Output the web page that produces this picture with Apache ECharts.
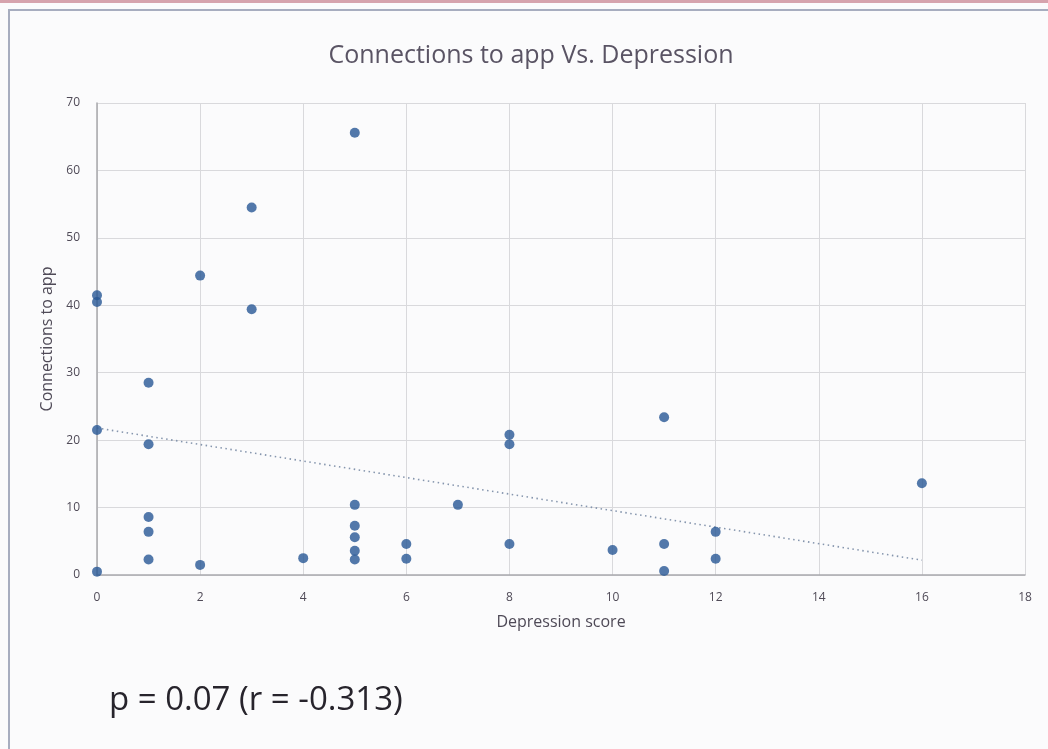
<!DOCTYPE html>
<html>
<head>
<meta charset="utf-8">
<script src="https://cdn.jsdelivr.net/npm/echarts@6/dist/echarts.min.js"></script>
<style>
  html, body { margin: 0; padding: 0; background: #fbfbfc; }
  #chart { width: 1048px; height: 749px; }
</style>
</head>
<body>
<div id="chart"></div>
<script>
// Depression score (x) per participant
const depressionScores = [
  0, 0, 0, 0,
  1, 1, 1, 1, 1,
  2, 2,
  3, 3,
  4,
  5, 5, 5, 5, 5, 5,
  6, 6,
  7,
  8, 8, 8,
  10,
  11, 11, 11,
  12, 12,
  16
];

// Number of connections to the app (y) per participant
const appConnections = [
  41.5, 40.5, 21.5, 0.5,
  28.5, 19.4, 8.6, 6.4, 2.3,
  44.4, 1.5,
  54.5, 39.4,
  2.5,
  65.6, 10.4, 7.3, 5.6, 3.6, 2.3,
  4.6, 2.4,
  10.4,
  20.8, 19.4, 4.6,
  3.7,
  23.4, 4.6, 0.6,
  6.4, 2.4,
  13.6
];

// Linear trendline end points
const trendX = [0, 16];
const trendY = [21.8, 2.2];

const xTicks = { min: 0, max: 18, interval: 2 };
const yTicks = { min: 0, max: 70, interval: 10 };

const titleText = 'Connections to app Vs. Depression';
const xAxisTitle = 'Depression score';
const yAxisTitle = 'Connections to app';
const statsText = 'p = 0.07 (r = -0.313)';

const points = depressionScores.map((x, i) => [x, appConnections[i]]);
const trend = trendX.map((x, i) => [x, trendY[i]]);

const chart = echarts.init(document.getElementById('chart'), null, { renderer: 'canvas' });

const labelFont = 'Open Sans';

chart.setOption({
  backgroundColor: '#fbfbfc',
  animation: false,
  title: {
    text: titleText,
    left: 526,
    textAlign: 'center',
    top: 38,
    textStyle: { fontFamily: labelFont, fontSize: 25, fontWeight: 'normal', color: '#5a5464' }
  },
  grid: { left: 97, right: 23, top: 103, bottom: 174 },
  xAxis: {
    type: 'value',
    min: xTicks.min, max: xTicks.max, interval: xTicks.interval,
    name: xAxisTitle,
    nameLocation: 'middle',
    nameGap: 39,
    nameTextStyle: { fontFamily: labelFont, fontSize: 16, color: '#4f4a57' },
    axisLine: { show: true, lineStyle: { color: '#a9a9ad', width: 1.5 } },
    axisTick: { show: false },
    axisLabel: { margin: 17, fontFamily: labelFont, fontSize: 12, color: '#4f4a57' },
    splitLine: { show: true, lineStyle: { color: '#d9d9dc', width: 1 } }
  },
  yAxis: {
    type: 'value',
    min: yTicks.min, max: yTicks.max, interval: yTicks.interval,
    name: yAxisTitle,
    nameLocation: 'middle',
    nameGap: 42,
    nameTextStyle: { fontFamily: labelFont, fontSize: 16, color: '#4f4a57' },
    axisLine: { show: true, lineStyle: { color: '#a9a9ad', width: 1.5 } },
    axisTick: { show: false },
    axisLabel: { margin: 17, fontFamily: labelFont, fontSize: 12, color: '#4f4a57' },
    splitLine: { show: true, lineStyle: { color: '#d9d9dc', width: 1 } }
  },
  series: [
    {
      name: 'Trendline',
      type: 'line',
      data: trend,
      symbol: 'none',
      lineStyle: { color: '#8595ad', width: 1.6, type: [1.5, 3.5] },
      z: 2
    },
    {
      name: 'Connections',
      type: 'scatter',
      data: points,
      symbolSize: 10,
      itemStyle: { color: '#285795' },
      z: 3
    }
  ],
  graphic: [
    {
      type: 'rect',
      shape: { x: 0, y: 0, width: 1048, height: 3 },
      style: { fill: '#d6a3ad' },
      silent: true
    },
    {
      type: 'rect',
      shape: { x: 9, y: 10, width: 1045, height: 760 },
      style: { fill: 'none', stroke: '#a7adbf', lineWidth: 2 },
      silent: true
    },
    {
      type: 'text',
      x: 109,
      y: 701,
      style: {
        text: statsText,
        fontFamily: labelFont,
        fontSize: 33,
        verticalAlign: 'middle',
        fill: '#27242c'
      }
    }
  ]
});
</script>
</body>
</html>
